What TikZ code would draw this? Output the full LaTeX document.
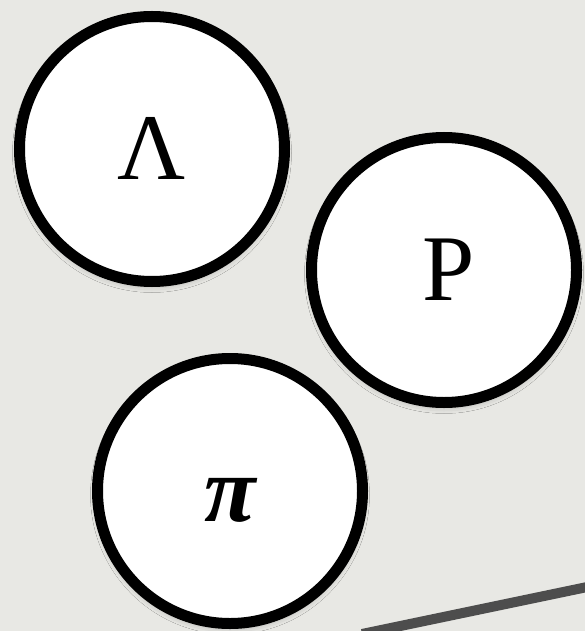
\documentclass[tikz,border=0pt]{standalone}
\usepackage{fontspec}
\setmainfont{Liberation Serif}
\usetikzlibrary{shadows.blur}
\definecolor{paper}{HTML}{E8E8E4}
\definecolor{barcol}{HTML}{4D4D4D}
\begin{document}
\begin{tikzpicture}[x=1pt,y=-1pt,
  ball/.style={circle, draw=black, line width=11pt, fill=white,
    minimum size=265pt, inner sep=0pt,
    font=\fontsize{94}{94}\selectfont, text height=61pt, text depth=0pt,
    blur shadow={shadow xshift=0pt, shadow yshift=-4pt, shadow blur radius=7pt, shadow opacity=30}},
  bar/.style={line width=10pt, draw=barcol}]
\fill[paper] (0,0) rectangle (585,631);
\useasboundingbox (0,0) rectangle (585,631);
\begin{scope}
\clip (0,0) rectangle (585,631);
\coordinate (b1) at (362,634);
\coordinate (b2) at (592,586);
\draw[bar] (b1) -- (b2);
\node[ball] (lam) at (152,149) {Λ};
\node[ball] (rho) at (444,270) {\hspace*{9pt}P};
\node[ball] (pi) at (230,491) {\bfseries\itshape π};
\end{scope}
\end{tikzpicture}
\end{document}
